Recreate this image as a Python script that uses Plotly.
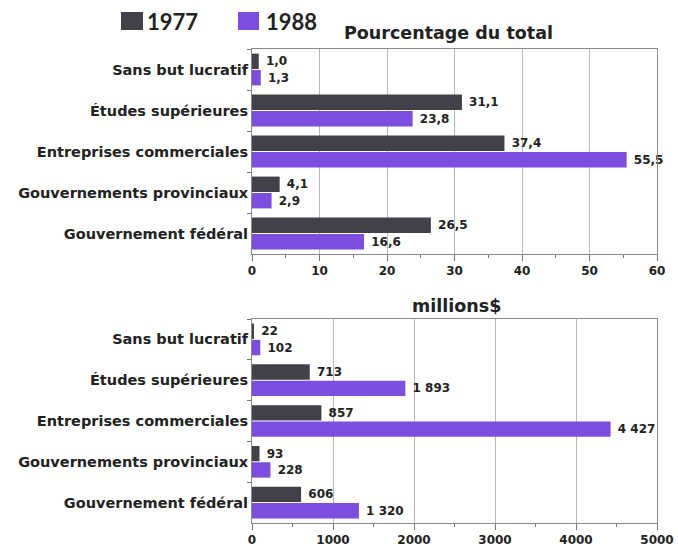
import plotly.graph_objects as go

# Categories listed top to bottom
categories = [
    "Sans but lucratif",
    "Études supérieures",
    "Entreprises commerciales",
    "Gouvernements provinciaux",
    "Gouvernement fédéral",
]
years = ["1977", "1988"]

pct_1977 = [1.0, 31.1, 37.4, 4.1, 26.5]
pct_1988 = [1.3, 23.8, 55.5, 2.9, 16.6]

mil_1977 = [22, 713, 857, 93, 606]
mil_1988 = [102, 1893, 4427, 228, 1320]

pct_ticks = [0, 10, 20, 30, 40, 50, 60]
mil_ticks = [0, 1000, 2000, 3000, 4000, 5000]

colors = {"1977": "#424048", "1988": "#7b4ee0"}
text_col = "#222222"
FONT = "DejaVu Sans"

W, H = 678, 548


def px_x(x):
    return x / W


def px_y(y):
    return 1 - y / H


fig = go.Figure()

NBSP = "\u00a0"
panels = [
    ("x", "y", {"1977": pct_1977, "1988": pct_1988}, NBSP + "%{x:.1f}"),
    ("x2", "y2", {"1977": mil_1977, "1988": mil_1988}, NBSP + "%{x:,.0f}"),
]
for xa, ya, series, tmpl in panels:
    for yr in years:
        fig.add_trace(go.Bar(
            x=series[yr], y=categories, orientation="h",
            xaxis=xa, yaxis=ya, name=yr,
            marker=dict(color=colors[yr], line=dict(width=0)),
            texttemplate=tmpl, textposition="outside",
            textfont=dict(family=FONT, size=12, color=text_col, weight="bold"),
            constraintext="none", cliponaxis=False,
            showlegend=False, hoverinfo="skip",
        ))

x_dom = [px_x(252), px_x(657)]
common_x = dict(
    domain=x_dom, showgrid=True, gridcolor="#b8b8b8", gridwidth=1,
    showline=True, linecolor="#8a8a8a", linewidth=1, mirror=True,
    ticks="outside", ticklen=6, tickcolor="#777777", zeroline=False,
    automargin=False,
    tickfont=dict(family=FONT, size=12, color=text_col, weight="bold"),
    minor=dict(ticks="outside", ticklen=3, tickcolor="#777777", showgrid=False),
)
common_y = dict(
    autorange="reversed", type="category", automargin=False,
    showline=True, linecolor="#8a8a8a", linewidth=1, mirror=True,
    ticks="outside", ticklen=4, tickcolor="#777777", tickson="boundaries",
    tickfont=dict(family=FONT, size=14.5, color=text_col, weight="bold"),
    showgrid=False,
)

fig.update_layout(
    width=W, height=H,
    margin=dict(l=0, r=0, t=0, b=0, pad=0),
    paper_bgcolor="white", plot_bgcolor="white",
    separators=", ",
    barmode="group", bargap=0.2, bargroupgap=0.06,
    xaxis=dict(common_x, anchor="y", range=[0, 60], tickvals=pct_ticks,
               minor=dict(common_x["minor"], dtick=5)),
    yaxis=dict(common_y, anchor="x", domain=[px_y(254), px_y(49)]),
    xaxis2=dict(common_x, anchor="y2", range=[0, 5000], tickvals=mil_ticks,
                minor=dict(common_x["minor"], dtick=500)),
    yaxis2=dict(common_y, anchor="x2", domain=[px_y(523), px_y(319)]),
)

# Panel titles
fig.add_annotation(text="Pourcentage du total", x=px_x(448), y=px_y(33),
                   xref="paper", yref="paper", showarrow=False,
                   xanchor="center", yanchor="middle",
                   font=dict(family=FONT, size=17.5, color=text_col, weight="bold"))
fig.add_annotation(text="millions$", x=px_x(456), y=px_y(306),
                   xref="paper", yref="paper", showarrow=False,
                   xanchor="center", yanchor="middle",
                   font=dict(family=FONT, size=17.5, color=text_col, weight="bold"))

# Legend: coloured squares with year labels
legend_items = [("1977", 121, 143, 145), ("1988", 238, 259, 264)]
for yr, x0, x1, tx in legend_items:
    fig.add_shape(type="rect", xref="paper", yref="paper",
                  x0=px_x(x0), x1=px_x(x1), y0=px_y(30), y1=px_y(12),
                  fillcolor=colors[yr], line=dict(width=0))
    fig.add_annotation(text=yr, x=px_x(tx), y=px_y(21), xref="paper", yref="paper",
                       xanchor="left", yanchor="middle", showarrow=False,
                       font=dict(family="Lato", size=22, color=text_col, weight="bold"))

# Page body without default margin so the figure sits flush in the window
fig.write_html("out.html", post_script="document.body.style.margin='0';")
